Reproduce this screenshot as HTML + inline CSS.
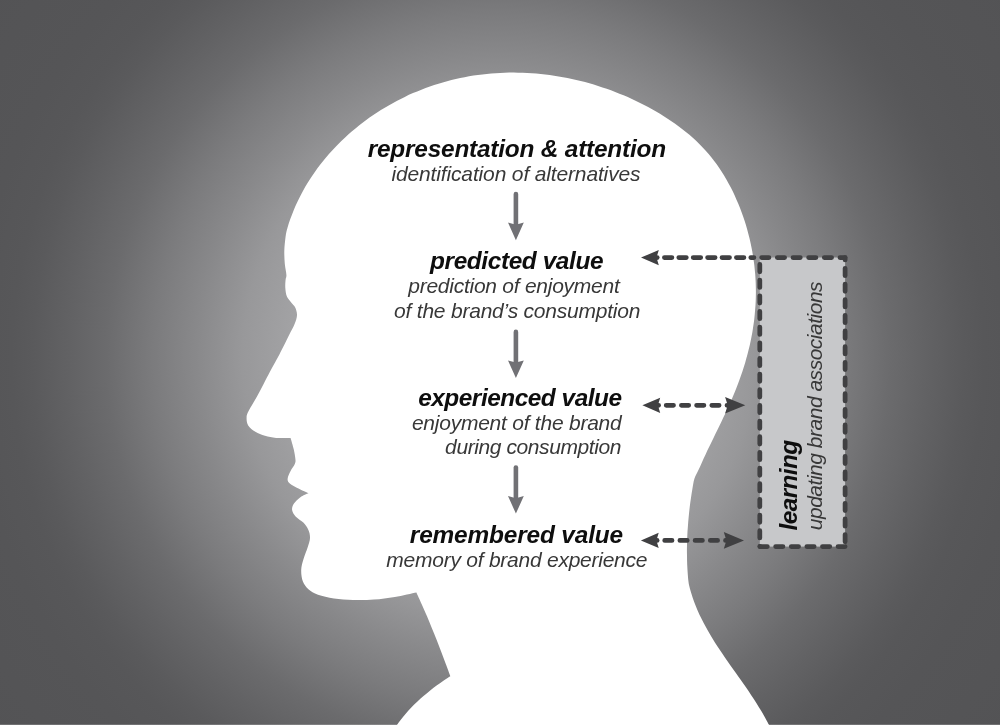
<!DOCTYPE html>
<html><head><meta charset="utf-8"><title>Brand value model</title>
<style>
html,body{margin:0;padding:0;background:#6a6a6c;}
body{width:1000px;height:725px;overflow:hidden;font-family:"Liberation Sans",sans-serif;}
svg{display:block}
text{font-family:"Liberation Sans",sans-serif;font-style:italic;}
.b{font-weight:bold;font-size:24.4px;fill:#0e0e0e;}
.i{font-weight:normal;font-size:21px;fill:#383838;}
</style></head><body>
<svg width="1000" height="725" viewBox="0 0 1000 725">
<defs>
<radialGradient id="bg" gradientUnits="userSpaceOnUse" cx="498" cy="358" r="640">
<stop offset="0" stop-color="#aeaeb0"/>
<stop offset="0.3125" stop-color="#a4a4a6"/>
<stop offset="0.40" stop-color="#98989a"/>
<stop offset="0.47" stop-color="#89898b"/>
<stop offset="0.54" stop-color="#7b7b7d"/>
<stop offset="0.6125" stop-color="#6b6b6d"/>
<stop offset="0.67" stop-color="#626264"/>
<stop offset="0.727" stop-color="#5a5a5c"/>
<stop offset="0.76" stop-color="#575759"/>
<stop offset="0.82" stop-color="#555557"/>
<stop offset="1" stop-color="#535355"/>
</radialGradient>
</defs>
<rect width="1000" height="725" fill="url(#bg)"/>
<path d="M395.6 727.0 C396.4 725.9 398.7 722.4 400.4 720.2 C402.1 718.0 403.9 715.8 405.7 713.7 C407.5 711.6 409.4 709.6 411.3 707.5 C413.2 705.5 415.2 703.6 417.2 701.7 C419.3 699.8 421.3 697.9 423.5 696.1 C425.6 694.2 427.7 692.5 429.9 690.7 C432.1 689.0 434.3 687.3 436.6 685.6 C438.8 684.0 441.1 682.4 443.4 680.8 C445.6 679.2 449.1 677.0 450.3 676.2 C449.6 674.2 447.3 668.1 445.8 664.1 C444.3 660.0 442.8 656.0 441.3 652.0 C439.8 648.0 438.2 643.9 436.7 639.9 C435.1 635.9 433.5 631.9 431.8 627.9 C430.2 624.0 428.6 620.0 426.9 616.0 C425.2 612.1 423.5 608.1 421.7 604.2 C420.0 600.2 417.3 594.4 416.4 592.4 C412.8 593.1 401.9 595.7 394.8 596.9 C387.7 598.1 380.9 599.1 374.0 599.6 C367.1 600.1 359.9 600.2 353.2 600.0 C346.5 599.8 339.9 599.4 334.0 598.5 C328.1 597.6 322.3 596.3 318.0 594.8 C313.7 593.2 310.9 591.5 308.4 589.2 C305.9 586.9 304.0 584.4 302.8 581.2 C301.6 578.0 301.1 573.7 301.2 570.0 C301.3 566.3 302.5 562.5 303.6 558.8 C304.7 555.1 306.5 551.1 307.6 547.6 C308.7 544.1 309.9 540.9 310.0 538.0 C310.1 535.1 309.5 532.5 308.4 530.0 C307.3 527.5 305.7 525.1 303.6 522.8 C301.5 520.5 297.5 518.5 295.6 516.4 C293.7 514.3 292.4 512.1 292.1 510.0 C291.8 507.9 292.6 505.7 294.0 503.6 C295.4 501.5 298.0 498.9 300.4 497.2 C302.8 495.5 307.1 493.9 308.5 493.3 C306.3 492.2 298.6 488.8 295.4 487.0 C292.1 485.2 290.3 484.2 289.0 482.7 C287.7 481.2 287.4 480.1 287.7 478.2 C288.0 476.2 289.4 473.4 290.6 471.0 C291.8 468.6 294.1 465.8 294.9 463.8 C295.7 461.8 295.6 461.4 295.4 459.0 C295.2 456.6 294.6 452.9 293.8 449.4 C293.0 445.9 291.1 439.8 290.6 437.9 C288.2 437.9 280.5 438.2 276.2 437.9 C271.9 437.5 268.5 436.8 265.0 435.8 C261.5 434.8 258.2 433.5 255.4 431.8 C252.6 430.1 249.7 427.8 248.2 425.4 C246.7 423.0 246.5 419.9 246.6 417.4 C246.7 414.9 247.1 413.9 249.0 410.2 C250.9 406.5 254.3 401.4 257.8 395.0 C261.3 388.6 266.2 378.8 269.8 372.0 C273.4 365.2 276.2 360.5 279.4 354.4 C282.6 348.3 286.5 340.3 289.0 335.2 C291.5 330.1 293.3 327.3 294.6 324.0 C295.9 320.7 296.9 317.9 297.0 315.2 C297.1 312.4 296.2 309.6 295.2 307.5 C294.2 305.4 292.6 304.4 291.2 302.5 C289.8 300.6 287.8 298.6 286.8 296.2 C285.8 293.8 285.5 290.5 285.3 287.8 C285.1 285.1 285.4 281.9 285.6 279.8 C285.8 277.7 286.5 277.7 286.4 275.0 C286.3 272.3 285.1 267.8 284.8 263.8 C284.5 259.8 284.2 255.5 284.3 251.0 C284.4 246.5 285.1 240.5 285.6 236.6 C286.1 232.7 286.7 230.6 287.5 227.7 C288.3 224.7 289.3 221.9 290.3 219.1 C291.3 216.3 292.4 213.5 293.5 210.7 C294.6 207.9 295.8 205.2 297.1 202.5 C298.4 199.8 299.7 197.1 301.1 194.5 C302.5 191.8 303.9 189.2 305.4 186.6 C306.9 184.0 308.5 181.5 310.1 179.0 C311.8 176.5 313.4 174.0 315.2 171.5 C316.9 169.1 318.7 166.7 320.5 164.3 C322.4 161.9 324.3 159.6 326.2 157.3 C328.2 155.0 330.1 152.7 332.2 150.5 C334.2 148.3 336.3 146.1 338.4 144.0 C340.5 141.8 342.7 139.7 344.9 137.7 C347.1 135.6 349.4 133.6 351.7 131.6 C354.0 129.7 356.3 127.7 358.7 125.8 C361.0 124.0 363.5 122.1 365.9 120.3 C368.3 118.5 370.8 116.8 373.3 115.1 C375.8 113.4 378.4 111.7 380.9 110.1 C383.5 108.5 386.1 106.9 388.7 105.4 C391.4 103.9 394.0 102.4 396.7 101.0 C399.4 99.6 402.1 98.2 404.8 96.9 C407.5 95.6 410.3 94.3 413.0 93.1 C415.8 91.9 418.6 90.8 421.4 89.7 C424.2 88.5 427.0 87.5 429.9 86.5 C432.7 85.5 435.6 84.6 438.5 83.7 C441.3 82.8 444.2 82.0 447.1 81.2 C450.0 80.4 452.9 79.7 455.8 79.0 C458.8 78.4 461.7 77.7 464.6 77.2 C467.6 76.6 470.5 76.1 473.5 75.6 C476.4 75.2 479.4 74.8 482.4 74.4 C485.3 74.1 488.3 73.8 491.3 73.5 C494.3 73.3 497.3 73.1 500.3 72.9 C503.2 72.8 506.2 72.7 509.2 72.6 C512.2 72.6 515.2 72.6 518.2 72.7 C521.2 72.7 524.2 72.8 527.2 73.0 C530.2 73.1 533.2 73.3 536.2 73.6 C539.2 73.8 542.2 74.1 545.2 74.5 C548.2 74.8 551.1 75.2 554.1 75.7 C557.1 76.1 560.1 76.6 563.0 77.2 C566.0 77.7 568.9 78.3 571.9 78.9 C574.8 79.6 577.8 80.3 580.7 81.0 C583.6 81.7 586.5 82.5 589.4 83.3 C592.3 84.1 595.2 85.0 598.1 85.9 C601.0 86.8 603.9 87.8 606.7 88.8 C609.6 89.8 612.4 90.8 615.2 91.9 C618.0 93.0 620.8 94.1 623.6 95.3 C626.4 96.5 629.2 97.7 631.9 99.0 C634.7 100.3 637.4 101.6 640.1 102.9 C642.8 104.3 645.5 105.7 648.1 107.1 C650.8 108.6 653.4 110.0 656.1 111.6 C658.7 113.1 661.3 114.6 663.8 116.3 C666.4 117.9 668.9 119.5 671.4 121.2 C673.9 122.9 676.4 124.6 678.8 126.4 C681.2 128.2 683.6 130.1 685.9 132.0 C688.3 133.8 690.6 135.8 692.8 137.8 C695.0 139.8 697.2 141.8 699.3 143.9 C701.4 146.0 703.5 148.2 705.5 150.4 C707.5 152.6 709.4 154.9 711.3 157.2 C713.1 159.5 714.9 161.9 716.7 164.3 C718.4 166.8 720.1 169.2 721.7 171.7 C723.3 174.3 724.9 176.8 726.4 179.4 C727.9 182.0 729.3 184.7 730.7 187.3 C732.1 190.0 733.4 192.7 734.7 195.4 C735.9 198.2 737.1 200.9 738.3 203.7 C739.5 206.5 740.6 209.3 741.6 212.2 C742.7 215.0 743.6 217.9 744.6 220.7 C745.5 223.6 746.4 226.5 747.2 229.4 C748.0 232.3 748.8 235.3 749.5 238.2 C750.2 241.2 750.9 244.1 751.4 247.1 C752.0 250.1 752.6 253.1 753.0 256.0 C753.5 259.0 753.9 262.0 754.3 265.0 C754.6 268.0 754.9 271.0 755.2 274.1 C755.4 277.1 755.6 280.1 755.7 283.1 C755.8 286.1 755.9 289.1 755.9 292.1 C755.9 295.1 755.8 298.1 755.7 301.1 C755.6 304.1 755.4 307.1 755.1 310.1 C754.9 313.1 754.6 316.1 754.3 319.0 C753.9 322.0 753.5 325.0 753.0 327.9 C752.6 330.9 752.1 333.8 751.5 336.8 C750.9 339.7 750.3 342.7 749.7 345.6 C749.0 348.5 748.3 351.4 747.5 354.3 C746.7 357.2 745.9 360.1 745.1 363.0 C744.2 365.9 743.3 368.7 742.4 371.6 C741.4 374.4 740.4 377.3 739.4 380.1 C738.4 382.9 737.3 385.8 736.2 388.6 C735.1 391.4 733.9 394.1 732.7 396.9 C731.6 399.7 730.3 402.5 729.1 405.2 C727.9 408.0 726.6 410.7 725.3 413.5 C724.0 416.2 722.7 418.9 721.4 421.7 C720.1 424.4 718.8 427.1 717.5 429.8 C716.2 432.5 714.8 435.3 713.5 438.0 C712.2 440.7 710.9 443.4 709.6 446.1 C708.2 448.8 706.9 451.5 705.7 454.3 C704.4 457.0 703.1 459.7 701.9 462.4 C700.6 465.2 699.4 467.9 698.2 470.6 C697.0 473.4 695.4 475.9 694.4 478.8 C693.4 481.7 693.1 485.1 692.5 488.2 C691.9 491.4 691.5 494.5 691.0 497.7 C690.5 500.9 690.1 504.0 689.7 507.2 C689.3 510.4 689.0 513.6 688.7 516.8 C688.4 520.0 688.1 523.2 687.9 526.4 C687.6 529.6 687.4 532.8 687.3 536.0 C687.1 539.2 687.0 542.4 687.0 545.6 C686.9 548.8 686.9 552.0 687.0 555.2 C687.0 558.4 687.1 561.6 687.2 564.8 C687.4 568.0 687.5 571.2 687.8 574.4 C688.1 577.6 688.2 580.9 688.8 584.0 C689.4 587.1 690.3 590.0 691.2 592.9 C692.1 595.9 693.1 598.8 694.1 601.7 C695.2 604.6 696.3 607.4 697.5 610.2 C698.7 613.0 700.0 615.8 701.4 618.5 C702.7 621.3 704.1 623.9 705.6 626.6 C707.0 629.3 708.6 631.9 710.1 634.6 C711.7 637.2 713.3 639.8 714.9 642.4 C716.5 644.9 718.2 647.5 719.9 650.1 C721.6 652.6 723.3 655.1 725.1 657.7 C726.8 660.2 728.6 662.7 730.3 665.2 C732.1 667.7 733.9 670.2 735.7 672.8 C737.4 675.3 739.2 677.8 741.0 680.3 C742.8 682.8 744.5 685.3 746.3 687.8 C748.0 690.4 749.7 692.9 751.4 695.5 C753.1 698.0 754.8 700.6 756.5 703.2 C758.1 705.8 759.7 708.4 761.3 711.0 C762.8 713.6 764.3 716.3 765.8 718.9 C767.3 721.6 769.5 725.7 770.2 727.0 Z" fill="#fff"/>
<rect x="759.8" y="257.5" width="85.3" height="289.1" fill="#c7c8ca"/>
<path d="M761.65 257.5 H845.1" stroke="#404042" stroke-width="4.75" stroke-linecap="round" stroke-dasharray="7.3 8.36" stroke-dashoffset="0" fill="none"/><path d="M845.1 257.5 V546.6" stroke="#404042" stroke-width="4.75" stroke-linecap="round" stroke-dasharray="7.3 8.36" stroke-dashoffset="4.81" fill="none"/><path d="M760.05 546.6 H845.1" stroke="#404042" stroke-width="4.75" stroke-linecap="round" stroke-dasharray="7.3 8.30" stroke-dashoffset="0" fill="none"/><path d="M759.8 264.45 V546.6" stroke="#404042" stroke-width="4.75" stroke-linecap="round" stroke-dasharray="7.3 8.36" stroke-dashoffset="0" fill="none"/>
<path d="M664.4 257.6 H753.9" stroke="#404042" stroke-width="4.75" stroke-linecap="round" stroke-dasharray="7.5 6.9" stroke-dashoffset="0" fill="none"/>
<path d="M656.8 257.6 h0.4" stroke="#404042" stroke-width="4.75" stroke-linecap="round"/><path d="M641 257.6 L658.8 250.0 L656.5 257.6 L658.8 265.2 Z" fill="#404042"/>
<path d="M666.2 405.3 H735" stroke="#404042" stroke-width="4.75" stroke-linecap="round" stroke-dasharray="7.3 7.9" stroke-dashoffset="0" fill="none"/>
<path d="M658.2 405.3 h0.4" stroke="#404042" stroke-width="4.75" stroke-linecap="round"/><path d="M642.4 405.3 L660.2 397.7 L657.9 405.3 L660.2 412.9 Z" fill="#404042"/><path d="M745.3 405.3 L725.1 397.0 L727.7 405.3 L725.1 413.6 Z" fill="#404042"/>
<path d="M664.7 540.4 H733" stroke="#404042" stroke-width="4.75" stroke-linecap="round" stroke-dasharray="7.3 7.9" stroke-dashoffset="0" fill="none"/>
<path d="M656.7 540.4 h0.4" stroke="#404042" stroke-width="4.75" stroke-linecap="round"/><path d="M640.9 540.4 L658.7 532.8 L656.4 540.4 L658.7 548.0 Z" fill="#404042"/><path d="M744 540.4 L723.8 532.1 L726.4 540.4 L723.8 548.7 Z" fill="#404042"/>
<path d="M515.9 194.1 V225.8" stroke="#717175" stroke-width="4.6" stroke-linecap="round" fill="none"/><path d="M508.0 222.6 L515.9 224.8 L523.8 222.6 L515.9 240.2 Z" fill="#717175"/>
<path d="M515.9 331.9 V363.6" stroke="#717175" stroke-width="4.6" stroke-linecap="round" fill="none"/><path d="M508.0 360.4 L515.9 362.6 L523.8 360.4 L515.9 378 Z" fill="#717175"/>
<path d="M515.9 467.5 V499.2" stroke="#717175" stroke-width="4.6" stroke-linecap="round" fill="none"/><path d="M508.0 496.0 L515.9 498.2 L523.8 496.0 L515.9 513.6 Z" fill="#717175"/>
<g opacity="0.999">
<text x="516.9" y="156.6" class="b" text-anchor="middle" textLength="298.5" lengthAdjust="spacing">representation &amp; attention</text>
<text x="516" y="181" class="i" text-anchor="middle" textLength="249" lengthAdjust="spacing">identification of alternatives</text>
<text x="516.8" y="268.6" class="b" text-anchor="middle" textLength="173.4" lengthAdjust="spacing">predicted value</text>
<text x="514.0" y="292.9" class="i" text-anchor="middle" textLength="211.5" lengthAdjust="spacing">prediction of enjoyment</text>
<text x="517.25" y="317.9" class="i" text-anchor="middle" textLength="246.4" lengthAdjust="spacing">of the brand’s consumption</text>
<text x="622.0" y="405.9" class="b" text-anchor="end" textLength="203.8" lengthAdjust="spacing">experienced value</text>
<text x="621.7" y="430.1" class="i" text-anchor="end" textLength="209.8" lengthAdjust="spacing">enjoyment of the brand</text>
<text x="621.5" y="454.1" class="i" text-anchor="end" textLength="176.4" lengthAdjust="spacing">during consumption</text>
<text x="623.1" y="542.5" class="b" text-anchor="end" textLength="213.3" lengthAdjust="spacing">remembered value</text>
<text x="516.9" y="567.0" class="i" text-anchor="middle" textLength="261.1" lengthAdjust="spacing">memory of brand experience</text>
<g transform="translate(797.4 530.4) rotate(-90)"><text x="0" y="0" class="b" text-anchor="start" textLength="90.5" lengthAdjust="spacing">learning</text></g>
<g transform="translate(822 530.2) rotate(-90)"><text x="0" y="0" class="i" text-anchor="start" textLength="248.8" lengthAdjust="spacing">updating brand associations</text></g>
</g>
<rect x="0" y="724" width="1000" height="1" fill="#fff" fill-opacity="0.17"/>
</svg>
</body></html>
